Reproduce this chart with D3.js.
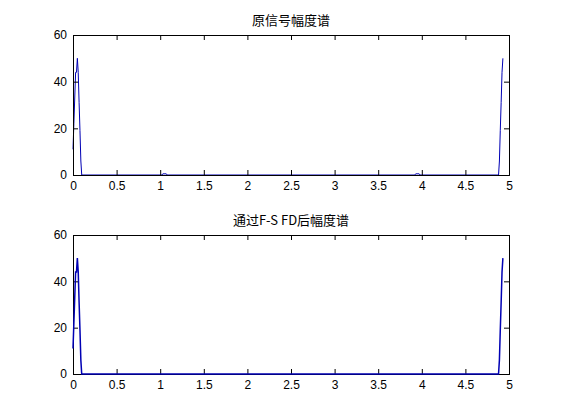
<!DOCTYPE html>
<html>
<head>
<meta charset="utf-8">
<script src="https://cdn.jsdelivr.net/npm/d3@7"></script>
<style>
  body { margin: 0; background: #fff; }
  svg { display: block; }
  .tick text { font-family: "Liberation Sans", Arial, sans-serif; font-size: 12px; fill: #000; }
  .ttl { font-family: "Noto Sans CJK SC", sans-serif; font-size: 13px; fill: #000; }
</style>
</head>
<body>
<div id="fig"></div>
<script>
// 原信号幅度谱
const freqTop = [0, 0.01, 0.02, 0.03, 0.04, 0.05, 0.06, 0.07, 0.08, 0.09, 0.10,
  1.02, 1.03, 1.07, 1.08, 3.92, 3.93, 3.97, 3.98,
  4.88, 4.89, 4.90, 4.91, 4.92, 4.93];
const magTop = [11, 22, 33, 44, 44, 50, 44, 31, 19, 6, 0,
  0, 0.5, 0.5, 0, 0, 0.5, 0.5, 0,
  0, 6, 19, 31, 44, 50];

// 通过F-S FD后幅度谱
const freqBot = [0, 0.01, 0.02, 0.03, 0.04, 0.05, 0.06, 0.07, 0.08, 0.09, 0.10,
  4.88, 4.89, 4.90, 4.91, 4.92, 4.93];
const magBot = [11, 22, 33, 44, 44, 50, 44, 31, 19, 6, 0,
  0, 6, 19, 31, 44, 50];

const xTicks = [0, 0.5, 1, 1.5, 2, 2.5, 3, 3.5, 4, 4.5, 5];
const yTicks = [0, 20, 40, 60];
const titles = ["原信号幅度谱", "通过F-S FD后幅度谱"];

const W = 561, H = 420;
const svg = d3.select("#fig").append("svg").attr("width", W).attr("height", H);

const panels = [
  { top: 35, bottom: 175, fx: freqTop, fy: magTop, lineOver: false },
  { top: 235, bottom: 374, fx: freqBot, fy: magBot, lineOver: true }
];
const left = 73, right = 509;

panels.forEach((p, i) => {
  const x = d3.scaleLinear().domain([0, 5]).range([left, right]);
  const y = d3.scaleLinear().domain([0, 60]).range([p.bottom, p.top]);
  const g = svg.append("g");

  const line = d3.line().x(d => x(d[0])).y(d => y(d[1]));
  const pts = p.fx.map((f, k) => [f, p.fy[k]]);

  function drawLine() {
    g.append("path")
      .datum(pts)
      .attr("fill", "none")
      .attr("stroke", "#0000b4")
      .attr("stroke-width", p.lineOver ? 1.5 : 1)
      .attr("d", line);
  }

  if (!p.lineOver) drawLine();

  // box with inward ticks
  g.append("g").attr("transform", `translate(0,${p.bottom})`)
    .call(d3.axisBottom(x).tickValues(xTicks).tickSize(-5).tickPadding(6).tickFormat(d3.format("")));
  g.append("g").attr("transform", `translate(0,${p.top})`)
    .call(d3.axisTop(x).tickValues(xTicks).tickSize(-5).tickFormat(""));
  g.append("g").attr("transform", `translate(${left},0)`)
    .call(d3.axisLeft(y).tickValues(yTicks).tickSize(-5).tickPadding(6));
  g.append("g").attr("transform", `translate(${right},0)`)
    .call(d3.axisRight(y).tickValues(yTicks).tickSize(-5).tickFormat(""));
  g.selectAll(".domain").attr("stroke", "#000").attr("stroke-width", 1);
  g.selectAll(".tick line").attr("stroke", "#000");

  if (p.lineOver) drawLine();

  g.append("text")
    .attr("class", "ttl")
    .attr("x", (left + right) / 2)
    .attr("y", p.top - 10)
    .attr("text-anchor", "middle")
    .text(titles[i]);
});
</script>
</body>
</html>
